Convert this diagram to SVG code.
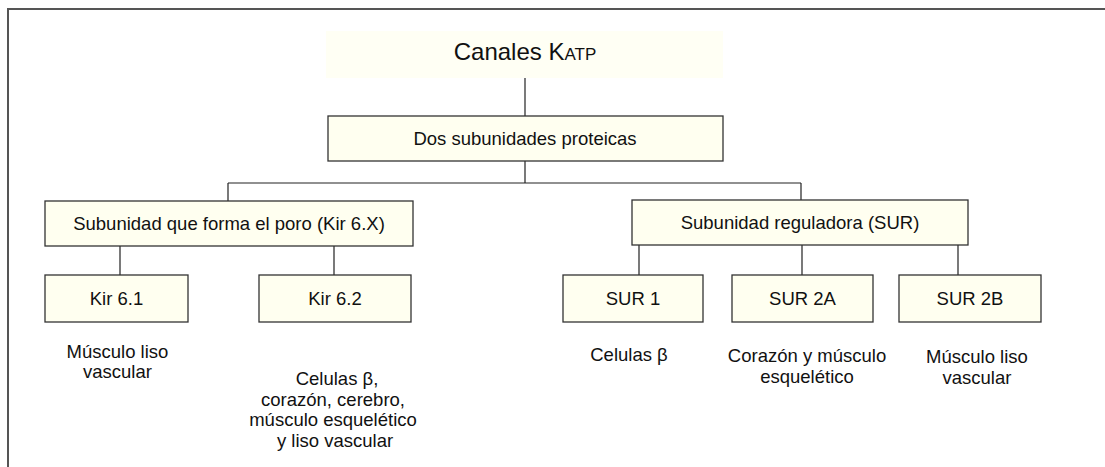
<svg xmlns="http://www.w3.org/2000/svg" width="1105" height="467" viewBox="0 0 1105 467">
<style>
.box{fill:#fffff0;stroke:#333;stroke-width:1.3}
.lbl{font-family:"Liberation Sans",Arial,sans-serif;font-size:18.5px;fill:#111;text-anchor:middle}
.con{stroke:#222;stroke-width:1.2;fill:none}
</style>
<rect width="1105" height="467" fill="#fff"/>
<path d="M8,467 V9 H1105" fill="none" stroke="#555" stroke-width="2"/>
<g id="connectors">
<path class="con" d="M525,69 V116"/>
<path class="con" d="M525,161 V183 M228,183 H801 M228,183 V201 M801,183 V200"/>
<path class="con" d="M120,246 V275 M334,246 V275"/>
<path class="con" d="M639,245 V275 M802,245 V275 M958,245 V275"/>
</g>
<g id="title">
<rect x="326" y="31" width="397" height="47" fill="#fffff4"/>
<text x="525" y="60" font-family="'Liberation Sans',Arial,sans-serif" font-size="24" fill="#111" text-anchor="middle">Canales K<tspan font-size="17">ATP</tspan></text>
</g>
<g id="dos">
<rect class="box" x="328" y="116" width="395" height="45"/>
<text class="lbl" x="525" y="145">Dos subunidades proteicas</text>
</g>
<g id="kir6x">
<rect class="box" x="45" y="201" width="368" height="45"/>
<text class="lbl" x="229" y="230">Subunidad que forma el poro (Kir 6.X)</text>
</g>
<g id="sur">
<rect class="box" x="632" y="200" width="336" height="45"/>
<text class="lbl" x="800" y="229">Subunidad reguladora (SUR)</text>
</g>
<g id="kir61">
<rect class="box" x="45" y="275" width="143" height="47"/>
<text class="lbl" x="116.5" y="305">Kir 6.1</text>
<text class="lbl" x="117.5" y="358">Músculo liso</text>
<text class="lbl" x="117.5" y="378">vascular</text>
</g>
<g id="kir62">
<rect class="box" x="259" y="275" width="152" height="47"/>
<text class="lbl" x="335" y="305">Kir 6.2</text>
<text class="lbl" x="337" y="385">Celulas β,</text>
<text class="lbl" x="333" y="406">corazón, cerebro,</text>
<text class="lbl" x="333" y="426">músculo esquelético</text>
<text class="lbl" x="335" y="447">y liso vascular</text>
</g>
<g id="sur1">
<rect class="box" x="563" y="275" width="140" height="47"/>
<text class="lbl" x="633" y="305">SUR 1</text>
<text class="lbl" x="629" y="361">Celulas β</text>
</g>
<g id="sur2a">
<rect class="box" x="732" y="275" width="141" height="47"/>
<text class="lbl" x="802.5" y="305">SUR 2A</text>
<text class="lbl" x="807" y="362">Corazón y músculo</text>
<text class="lbl" x="807" y="383">esquelético</text>
</g>
<g id="sur2b">
<rect class="box" x="899" y="275" width="142" height="47"/>
<text class="lbl" x="970" y="305">SUR 2B</text>
<text class="lbl" x="977" y="363">Músculo liso</text>
<text class="lbl" x="977" y="384">vascular</text>
</g>
</svg>
